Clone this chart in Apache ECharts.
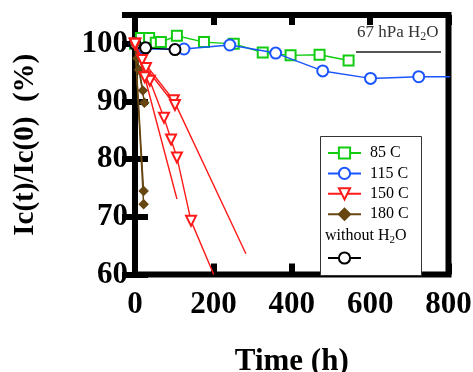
<!DOCTYPE html>
<html><head><meta charset="utf-8">
<script src="https://cdn.jsdelivr.net/npm/echarts@6/dist/echarts.min.js"></script>
<style>html,body{margin:0;padding:0;background:#fff}#c{width:473px;height:372px}</style>
</head><body><div id="c"></div>
<script>
// ---- data (time h, Ic(t)/Ic(0) %) ----
const xRange = [0, 800];
const yRange = [60, 105];
const c85 = [[0,100],[15,101],[36,101],[53,100.2],[66,100.3],[107,101.4],[176,100.3],[252,100],[326,98.5],[397,98],[471,98.1],[545,97.1]];
const c115 = [[0,100],[23,99.1],[125,99.1],[242,99.8],[359,98.4],[479,95.3],[601,94],[724,94.3]];
const c115End = [830,94.3];
const noWater = [[0,100],[27,99.3],[102,99.0]];
const red1 = [[0,100],[18,97.2],[99,90.2]];   const red1End = [283,63.6];
const red2 = [[0,100],[28,95.8],[102,89.4]];  const red2End = null;
const red3 = [[0,100],[38,93.6],[74,87.2],[92,83.4],[107,80.3],[143,69.3]]; const red3End = [201,60];
const red4 = [[0,100],[25,94.2]];             const red4End = [107,73.1];
const brown1 = [[0,100],[6,97.5],[20,91.9]];
const brown2 = [[0,100],[10,95.5],[24,89.8]];
const brown3 = [[0,100],[22,74.5]];
const brown4 = [[0,100],[22,72.2]];

const FONT = 'Liberation Serif';
const GREEN = '#11cc11', BLUE = '#1a55ff', RED = '#ff1a1a', BROWN = '#664611', BLACK = '#000';

function mk(name, pts, end, color, symbol, size, rotate, z) {
  const data = pts.map(p => ({value: p}));
  if (end) data.push({value: end, symbol: 'none'});
  return {
    name, type: 'line', data, color,
    symbol, symbolSize: size, symbolRotate: rotate || 0,
    lineStyle: {color, width: 1.4},
    itemStyle: {color, borderColor: color, borderWidth: 1.1},
    emphasis: {disabled: true}, animation: false, z: z || 2,
    clip: true
  };
}

const series = [
  mk('85 C', c85, null, GREEN, 'emptyRect', 10, 0, 2),
  mk('115 C', c115, c115End, BLUE, 'emptyCircle', 11, 0, 3),
  mk('without H2O', noWater, null, BLACK, 'emptyCircle', 11, 0, 3),
  mk('180 C', brown1, null, BROWN, 'diamond', 9, 0, 4),
  mk('180 C', brown2, null, BROWN, 'diamond', 9, 0, 4),
  mk('180 C', brown3, null, BROWN, 'diamond', 9, 0, 4),
  mk('180 C', brown4, null, BROWN, 'diamond', 9, 0, 4),
  mk('150 C', red1, red1End, RED, 'emptyTriangle', 10, 180, 5),
  mk('150 C', red2, red2End, RED, 'emptyTriangle', 10, 180, 5),
  mk('150 C', red3, red3End, RED, 'emptyTriangle', 10, 180, 5),
  mk('150 C', red4, red4End, RED, 'emptyTriangle', 10, 180, 5)
];

const tickLabel = {fontFamily: FONT, fontWeight: 'bold', fontSize: 31, color: '#000'};
const chart = echarts.init(document.getElementById('c'), null, {renderer: 'canvas'});
chart.setOption({
  animation: false,
  grid: {left: 135, right: 24.5, top: 15, bottom: 97.5, show: true, borderWidth: 6, borderColor: '#000',
         backgroundColor: 'transparent', containLabel: false, outerBoundsMode: 'none'},
  xAxis: [
    {type: 'value', min: xRange[0], max: xRange[1], interval: 200, position: 'bottom',
     axisLine: {show: false}, splitLine: {show: false},
     axisTick: {inside: true, length: 11, lineStyle: {width: 6, color: '#000'}},
     axisLabel: Object.assign({margin: 15}, tickLabel),
     name: 'Time (h)', nameLocation: 'middle', nameGap: 72,
     nameTextStyle: {fontFamily: FONT, fontWeight: 'bold', fontSize: 31, color: '#000'}},
    {type: 'value', min: xRange[0], max: xRange[1], interval: 200, position: 'top',
     axisLine: {show: false}, splitLine: {show: false}, axisLabel: {show: false},
     axisTick: {inside: true, length: 10, lineStyle: {width: 6, color: '#000'}}}
  ],
  yAxis: [
    {type: 'value', min: yRange[0], max: yRange[1], interval: 10, position: 'left',
     axisLine: {show: false}, splitLine: {show: false},
     axisTick: {inside: true, length: 13, lineStyle: {width: 6, color: '#000'}},
     axisLabel: Object.assign({margin: 7, formatter: v => (v % 10 === 0 ? String(v) : '')}, tickLabel),
     name: 'Ic(t)/Ic(0)  (%)', nameLocation: 'middle', nameGap: 95,
     nameTextStyle: {fontFamily: FONT, fontWeight: 'bold', fontSize: 29, color: '#000'}},
    {type: 'value', min: yRange[0], max: yRange[1], interval: 10, position: 'right',
     axisLine: {show: false}, splitLine: {show: false}, axisLabel: {show: false},
     axisTick: {inside: true, length: 13, lineStyle: {width: 6, color: '#000'}}}
  ],
  legend: [
    {orient: 'vertical', left: 327, top: 145, padding: 0, itemWidth: 33, itemHeight: 14, itemGap: 4.4,
     data: ['85 C', '115 C', '150 C', '180 C'], selectedMode: false,
     textStyle: {fontFamily: FONT, fontSize: 16, color: '#000', padding: [0,0,0,4]}, z: 20},
    {orient: 'vertical', left: 327, top: 251, padding: 0, itemWidth: 33, itemHeight: 14,
     data: ['without H2O'], selectedMode: false, formatter: () => '', z: 20}
  ],
  graphic: [
    {type: 'rect', left: 320, top: 136, shape: {width: 101, height: 139}, z: 10,
     style: {fill: '#fff', stroke: '#333', lineWidth: 1}},
    {type: 'text', left: 325, top: 228, z: 21,
     style: {text: '{a|without H}{s|2}{a|O}', rich: {
       a: {fontFamily: FONT, fontSize: 16, fill: '#000'},
       s: {fontFamily: FONT, fontSize: 11, fill: '#000', padding: [9,0,0,0]}}}},
    {type: 'text', left: 357, top: 24, z: 21,
     style: {text: '{a|67 hPa H}{s|2}{a|O}', rich: {
       a: {fontFamily: FONT, fontSize: 17, fill: '#333'},
       s: {fontFamily: FONT, fontSize: 12, fill: '#333', padding: [9,0,0,0]}}}},
    {type: 'line', z: 21, shape: {x1: 356, y1: 52, x2: 441, y2: 52}, style: {stroke: '#555', lineWidth: 2}}
  ],
  series: series
});
</script></body></html>
